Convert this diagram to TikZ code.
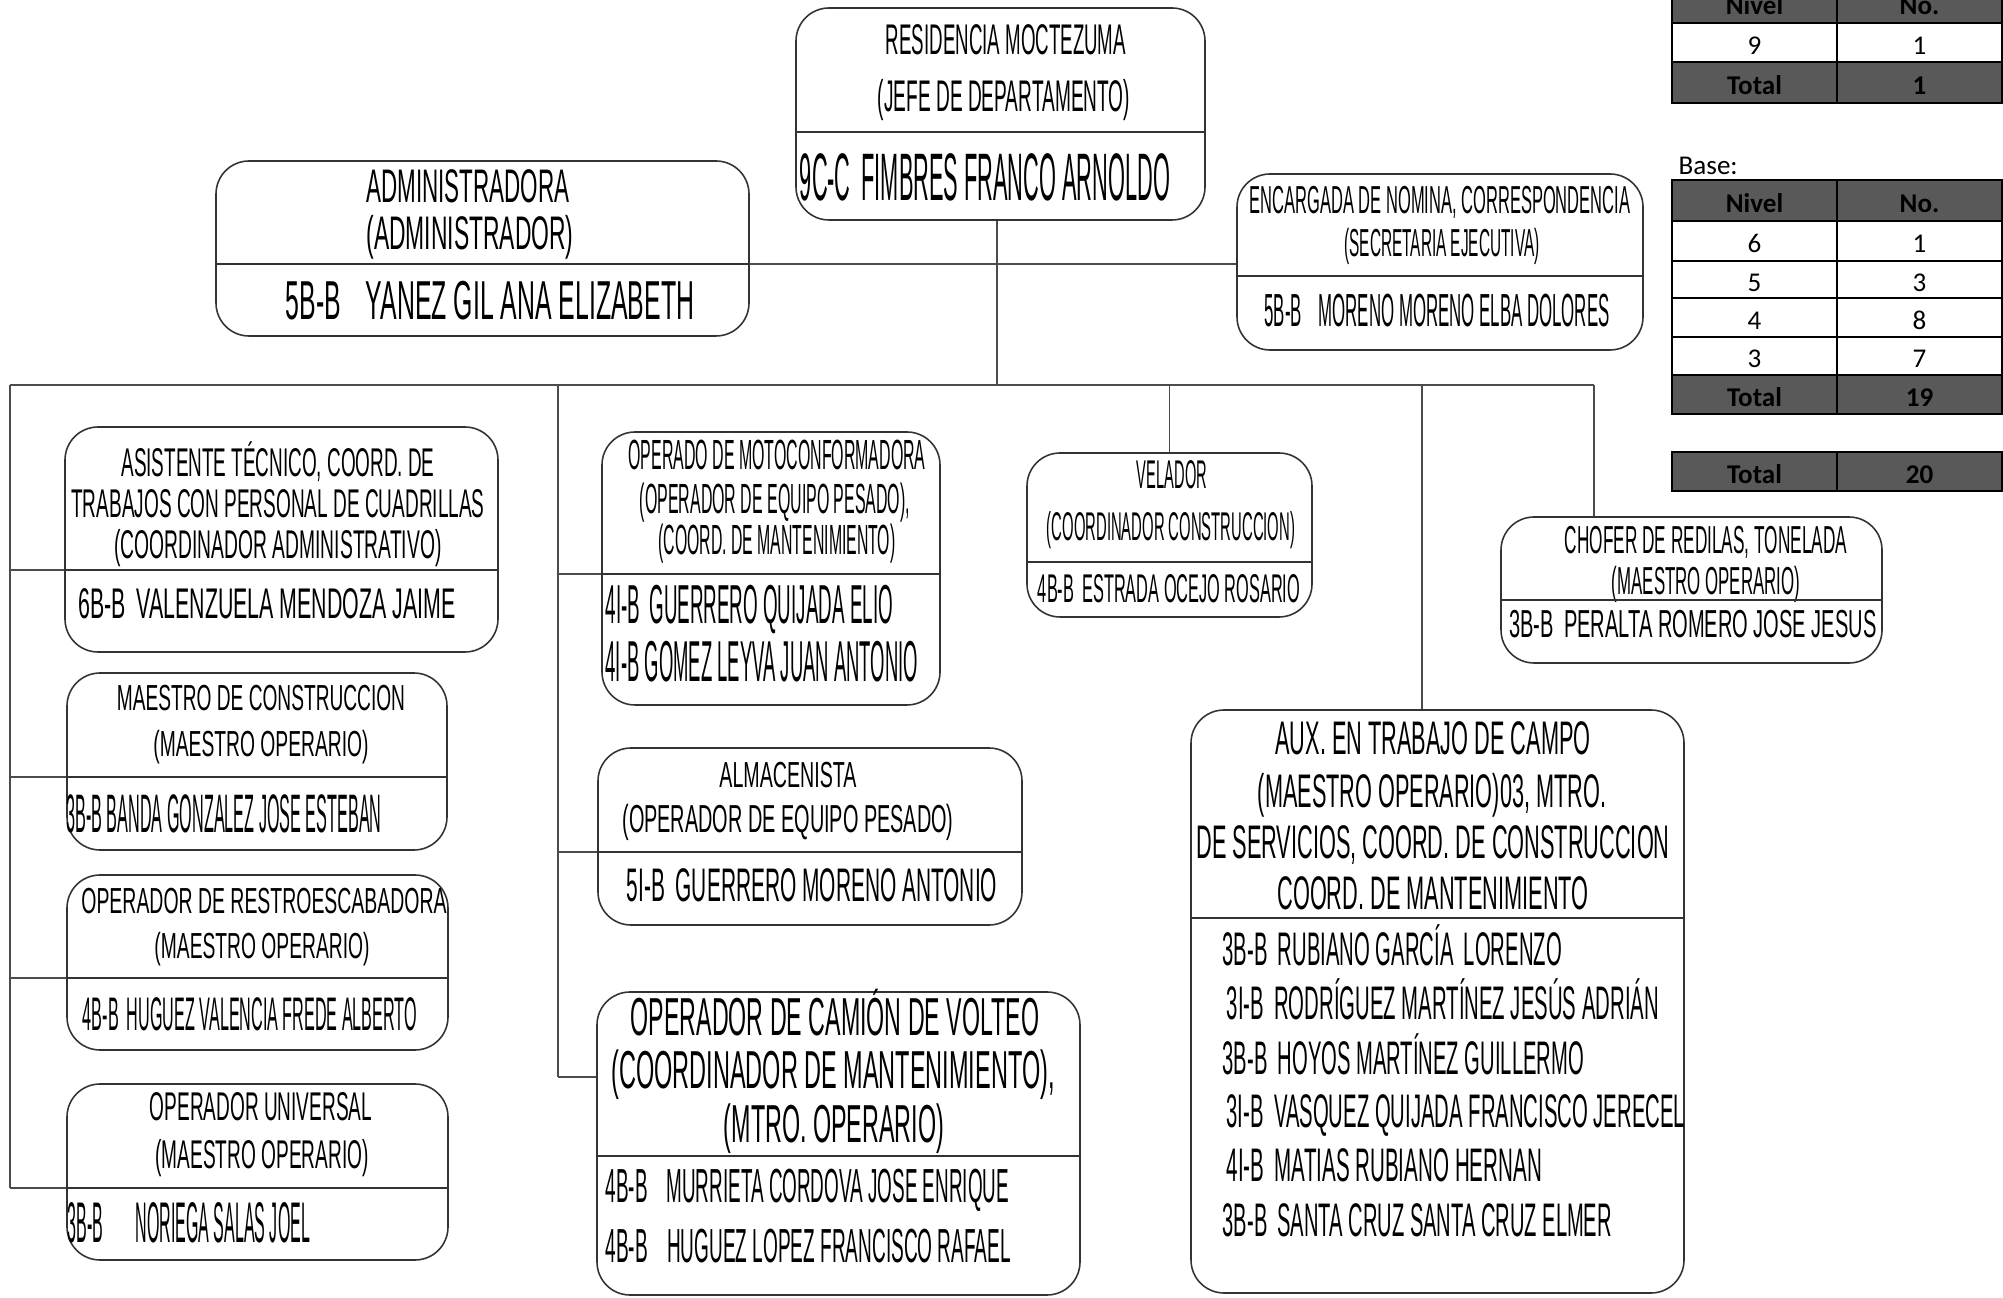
\documentclass[tikz,border=0pt]{standalone}
\usepackage{fontspec}
\usepackage{graphicx}
\newfontfamily\arial{Liberation Sans}
\newfontfamily\calib{Carlito}
\usetikzlibrary{fit}
\definecolor{hdr}{HTML}{595959}
\newcommand{\fw}[2]{\resizebox{#1cm}{\height}{#2}}

\begin{document}
\begin{tikzpicture}[x=0.01cm, y=-0.01cm,
  box/.style={draw=black!80, line width=0.45pt, rounded corners=0.33cm, inner sep=0pt},
  rule/.style={draw=black!80, line width=0.45pt},
  wire/.style={draw=black!70, line width=0.5pt},
  ln/.style={inner sep=0pt, text height=0.69*#1pt, text depth=0pt, font=\arial\fontsize{#1}{#1}\selectfont},
  cell/.style={draw=black, line width=0.7pt},
  tbl/.style={inner sep=0pt, text height=4.9pt, text depth=0pt, font=\calib\fontsize{7.7}{9}\selectfont}]
  \useasboundingbox (0,0) rectangle (2003,1298);
  \clip (0,0) rectangle (2003,1298);

  % jefe
  \node[box, fit={(796,8) (1205,220)}] (res) {};
  \node[ln=12.2] (res1) at (1006,40) {\fw{2.40}{RESIDENCIA MOCTEZUMA}};
  \node[ln=12.6] (res2) at (1004,96) {\fw{2.52}{(JEFE DE DEPARTAMENTO)}};
  \node[ln=19.1] (res3) at (985,177) {\fw{3.70}{9C-C\enspace FIMBRES FRANCO ARNOLDO}};
  \draw[rule] (res.west |- 0,132) -- (res.east |- 0,132);

  % staff
  \node[box, fit={(216,161) (749,336)}] (adm) {};
  \node[ln=13.4] (adm1) at (468,186) {\fw{2.03}{ADMINISTRADORA}};
  \node[ln=13.4] (adm2) at (470,233) {\fw{2.07}{(ADMINISTRADOR)}};
  \node[ln=15.6] (adm3) at (490,301) {\fw{4.08}{5B-B\quad YANEZ GIL ANA ELIZABETH}};
  \draw[rule] (adm.west |- 0,264) -- (adm.east |- 0,264);

  \node[box, fit={(1237,174) (1643,350)}] (enc) {};
  \node[ln=11.1] (enc1) at (1440,200) {\fw{3.80}{ENCARGADA DE NOMINA, CORRESPONDENCIA}};
  \node[ln=11.1] (enc2) at (1442,243) {\fw{1.95}{(SECRETARIA EJECUTIVA)}};
  \node[ln=13.2] (enc3) at (1437,310) {\fw{3.45}{5B-B\quad MORENO MORENO ELBA DOLORES}};
  \draw[rule] (enc.west |- 0,276) -- (enc.east |- 0,276);

  % left column
  \node[box, fit={(65,427) (498,652)}] (asis) {};
  \node[ln=11.4] (asis1) at (278,463) {\fw{3.13}{ASISTENTE TÉCNICO, COORD. DE}};
  \node[ln=11.4] (asis2) at (278,504) {\fw{4.13}{TRABAJOS CON PERSONAL DE CUADRILLAS}};
  \node[ln=11.4] (asis3) at (278,545) {\fw{3.27}{(COORDINADOR ADMINISTRATIVO)}};
  \node[ln=12.2] (asis4) at (267,604) {\fw{3.77}{6B-B\enspace VALENZUELA MENDOZA JAIME}};
  \draw[rule] (asis.west |- 0,570) -- (asis.east |- 0,570);

  \node[box, fit={(67,673) (447,850)}] (maes) {};
  \node[ln=10.3] (maes1) at (261,698) {\fw{2.88}{MAESTRO DE CONSTRUCCION}};
  \node[ln=10.3] (maes2) at (261,744) {\fw{2.15}{(MAESTRO OPERARIO)}};
  \node[ln=15.4] (maes3) at (224,814) {\fw{3.15}{3B-B BANDA GONZALEZ JOSE ESTEBAN}};
  \draw[rule] (maes.west |- 0,777) -- (maes.east |- 0,777);

  \node[box, fit={(67,875) (448,1050)}] (retro) {};
  \node[ln=10.3] (retro1) at (264,901) {\fw{3.65}{OPERADOR DE RESTROESCABADORA}};
  \node[ln=10.3] (retro2) at (262,946) {\fw{2.15}{(MAESTRO OPERARIO)}};
  \node[ln=13.4] (retro3) at (250,1014) {\fw{3.34}{4B-B\enspace HUGUEZ VALENCIA FREDE ALBERTO}};
  \draw[rule] (retro.west |- 0,978) -- (retro.east |- 0,978);

  \node[box, fit={(67,1084) (448,1260)}] (univ) {};
  \node[ln=11.4] (univ1) at (261,1107) {\fw{2.22}{OPERADOR UNIVERSAL}};
  \node[ln=11.4] (univ2) at (262,1155) {\fw{2.13}{(MAESTRO OPERARIO)}};
  \node[ln=16.3] (univ3) at (189,1223) {\fw{2.42}{3B-B\qquad NORIEGA SALAS JOEL}};
  \draw[rule] (univ.west |- 0,1188) -- (univ.east |- 0,1188);

  % middle column
  \node[box, fit={(602,432) (940,705)}] (moto) {};
  \node[ln=12.0] (moto1) at (777,455) {\fw{2.97}{OPERADO DE MOTOCONFORMADORA}};
  \node[ln=12.0] (moto2) at (775,499) {\fw{2.70}{(OPERADOR DE EQUIPO PESADO),}};
  \node[ln=12.0] (moto3) at (777,540) {\fw{2.37}{(COORD. DE MANTENIMIENTO)}};
  \node[ln=15.6, anchor=west] (moto4) at (605,605) {\fw{2.87}{4I-B\enspace GUERRERO QUIJADA ELIO}};
  \node[ln=16.4, anchor=west] (moto5) at (605,662) {\fw{3.12}{4I-B GOMEZ LEYVA JUAN ANTONIO}};
  \draw[rule] (moto.west |- 0,574) -- (moto.east |- 0,574);

  \node[box, fit={(598,748) (1022,925)}] (alm) {};
  \node[ln=10.3] (alm1) at (788,775) {\fw{1.37}{ALMACENISTA}};
  \node[ln=11.1] (alm2) at (788,819) {\fw{3.31}{(OPERADOR DE EQUIPO PESADO)}};
  \node[ln=13.4] (alm3) at (812,885) {\fw{3.70}{5I-B\enspace GUERRERO MORENO ANTONIO}};
  \draw[rule] (alm.west |- 0,852) -- (alm.east |- 0,852);

  \node[box, fit={(597,992) (1080,1295)}] (cam) {};
  \node[ln=15.2] (cam1) at (835,1017) {\fw{4.08}{OPERADOR DE CAMIÓN DE VOLTEO}};
  \node[ln=15.2] (cam2) at (833,1070) {\fw{4.43}{(COORDINADOR DE MANTENIMIENTO),}};
  \node[ln=15.2] (cam3) at (834,1124) {\fw{2.20}{(MTRO. OPERARIO)}};
  \node[ln=13.6, anchor=west] (cam4) at (605,1186) {\fw{4.03}{4B-B\quad MURRIETA CORDOVA JOSE ENRIQUE}};
  \node[ln=13.6, anchor=west] (cam5) at (605,1246) {\fw{4.05}{4B-B\quad HUGUEZ LOPEZ FRANCISCO RAFAEL}};
  \draw[rule] (cam.west |- 0,1156) -- (cam.east |- 0,1156);

  % right side
  \node[box, fit={(1027,453) (1312,617)}] (vel) {};
  \node[ln=11.4] (vel1) at (1172,475) {\fw{0.70}{VELADOR}};
  \node[ln=11.4] (vel2) at (1171,527) {\fw{2.48}{(COORDINADOR CONSTRUCCION)}};
  \node[ln=11.4] (vel3) at (1169,589) {\fw{2.62}{4B-B\enspace ESTRADA OCEJO ROSARIO}};
  \draw[rule] (vel.west |- 0,562) -- (vel.east |- 0,562);

  \node[box, fit={(1501,517) (1882,663)}] (cho) {};
  \node[ln=11.1] (cho1) at (1706,540) {\fw{2.82}{CHOFER DE REDILAS, TONELADA}};
  \node[ln=11.1] (cho2) at (1706,581) {\fw{1.88}{(MAESTRO OPERARIO)}};
  \node[ln=11.1] (cho3) at (1693,624) {\fw{3.67}{3B-B\enspace PERALTA ROMERO JOSE JESUS}};
  \draw[rule] (cho.west |- 0,600) -- (cho.east |- 0,600);

  \node[box, fit={(1191,710) (1684,1293)}] (aux) {};
  \node[ln=13.4] (aux1) at (1433,738) {\fw{3.15}{AUX. EN TRABAJO DE CAMPO}};
  \node[ln=13.4] (aux2) at (1432,791) {\fw{3.48}{(MAESTRO OPERARIO)03, MTRO.}};
  \node[ln=13.4] (aux3) at (1433,842) {\fw{4.73}{DE SERVICIOS, COORD. DE CONSTRUCCION}};
  \node[ln=13.4] (aux4) at (1433,893) {\fw{3.11}{COORD. DE MANTENIMIENTO}};
  \draw[rule] (aux.west |- 0,918) -- (aux.east |- 0,918);
  \node[ln=13.4, anchor=west] (aux5) at (1222,949) {\fw{3.39}{3B-B\enspace RUBIANO GARCÍA\enspace LORENZO}};
  \node[ln=13.4, anchor=west] (aux6) at (1226,1003) {\fw{4.32}{3I-B\enspace RODRÍGUEZ MARTÍNEZ JESÚS ADRIÁN}};
  \node[ln=13.4, anchor=west] (aux7) at (1222,1058) {\fw{3.61}{3B-B\enspace HOYOS MARTÍNEZ GUILLERMO}};
  \node[ln=13.4, anchor=west] (aux8) at (1226,1111) {\fw{4.58}{3I-B\enspace VASQUEZ QUIJADA FRANCISCO JERECEL}};
  \node[ln=13.4, anchor=west] (aux9) at (1226,1165) {\fw{3.15}{4I-B\enspace MATIAS RUBIANO HERNAN}};
  \node[ln=13.4, anchor=west] (aux10) at (1222,1220) {\fw{3.89}{3B-B\enspace SANTA CRUZ SANTA CRUZ ELMER}};

  % lines
  \coordinate (hub) at (997,385);
  \coordinate (mid) at (997,264);
  \coordinate (busl) at (10,385);
  \coordinate (busm) at (558,385);
  \coordinate (busa) at (1422,385);
  \coordinate (busr) at (1594,385);
  \draw[wire] (hub |- res.south) -- (hub);
  \draw[wire] (mid -| adm.east) -- (mid -| enc.west);
  \draw[wire] (busl) -- (busr);
  \draw[wire] (busl) -- (busl |- 0,1188);
  \foreach \yy/\bx in {570/asis, 777/maes, 978/retro, 1188/univ}
    \draw[wire] (busl |- 0,\yy) -- (\bx.west |- 0,\yy);
  \draw[wire] (busm) -- (busm |- 0,1077);
  \foreach \yy/\bx in {574/moto, 852/alm, 1077/cam}
    \draw[wire] (busm |- 0,\yy) -- (\bx.west |- 0,\yy);
  \draw[wire] (vel.north |- hub) -- (vel.north);
  \draw[wire] (busa) -- (busa |- aux.north);
  \draw[wire] (busr) -- (busr |- cho.north);

  % tables
  \foreach \ya/\yb/\fc/\fn/\ta/\tb/\k in {-17/23/hdr/\bfseries/Nivel/No./0, 23/62/white/\mdseries/9/1/1, 62/103/hdr/\bfseries/Total/1/2}{
    \draw[cell, fill=\fc] (1672,\ya) rectangle (1837,\yb) (1837,\ya) rectangle (2002,\yb);
    \node[tbl] (ta\k) at (1754.5,{(\ya+\yb)/2+3}) {\fn\ta};
    \node[tbl] (tb\k) at (1919.5,{(\ya+\yb)/2+3}) {\fn\tb};
  }
  \node[tbl, anchor=west] (base) at (1678,166) {Base:};
  \foreach \ya/\yb/\fc/\fn/\ta/\tb/\k in {180/221/hdr/\bfseries/Nivel/No./0, 221/261/white/\mdseries/6/1/1, 261/298/white/\mdseries/5/3/2, 298/337/white/\mdseries/4/8/3, 337/375/white/\mdseries/3/7/4, 375/414/hdr/\bfseries/Total/19/5}{
    \draw[cell, fill=\fc] (1672,\ya) rectangle (1837,\yb) (1837,\ya) rectangle (2002,\yb);
    \node[tbl] (tc\k) at (1754.5,{(\ya+\yb)/2+3}) {\fn\ta};
    \node[tbl] (td\k) at (1919.5,{(\ya+\yb)/2+3}) {\fn\tb};
  }
  \draw[cell, fill=hdr] (1672,452) rectangle (1837,491) (1837,452) rectangle (2002,491);
  \node[tbl] (te0) at (1754.5,474.5) {\bfseries Total};
  \node[tbl] (tf0) at (1919.5,474.5) {\bfseries 20};
\end{tikzpicture}
\end{document}
